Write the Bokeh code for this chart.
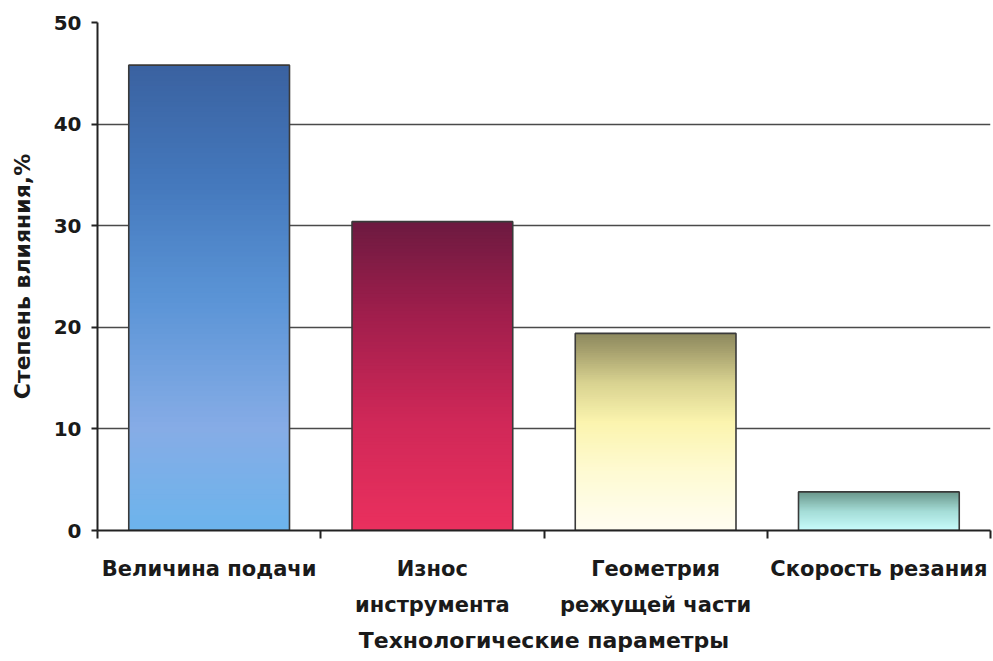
from bokeh.plotting import figure
from bokeh.models import Range1d, FixedTicker, ColumnDataSource
from bokeh.embed import file_html
from bokeh.resources import INLINE

# Data: influence of technological parameters, %
categories = ["Величина подачи", "Износ\nинструмента", "Геометрия\nрежущей части", "Скорость резания"]
values = [45.8, 30.4, 19.4, 3.8]
y_ticks = [0, 10, 20, 30, 40, 50]

# Vertical gradient stops (fraction of bar height from the bottom -> colour)
gradients = [
    [(0.0, "#6cb4ec"), (0.22, "#86ace6"), (0.5, "#5a94d6"), (0.75, "#4478bc"), (1.0, "#3a62a0")],
    [(0.0, "#ea305e"), (0.35, "#d02858"), (0.7, "#a01e4c"), (1.0, "#6c1a40")],
    [(0.0, "#fffdf2"), (0.3, "#fefad2"), (0.55, "#fbf4ae"), (0.75, "#d8d290"), (0.9, "#aaa470"), (1.0, "#8c885e")],
    [(0.0, "#c8fcfc"), (0.5, "#a4dcd6"), (1.0, "#6a968a")],
]

BAR_WIDTH = 0.72
SLICES = 90
FONT = "DejaVu Sans"
TEXT_COLOR = "#1a1a1a"


def hex_to_rgb(h):
    h = h.lstrip("#")
    return tuple(int(h[i:i + 2], 16) for i in (0, 2, 4))


def colour_at(stops, t):
    for (t0, c0), (t1, c1) in zip(stops[:-1], stops[1:]):
        if t0 <= t <= t1:
            a = (t - t0) / (t1 - t0) if t1 > t0 else 0.0
            r0, g0, b0 = hex_to_rgb(c0)
            r1, g1, b1 = hex_to_rgb(c1)
            return "#%02x%02x%02x" % (round(r0 + (r1 - r0) * a),
                                       round(g0 + (g1 - g0) * a),
                                       round(b0 + (b1 - b0) * a))
    return stops[-1][1]


p = figure(width=993, height=661, output_backend="svg", toolbar_location=None,
           x_range=Range1d(0, len(categories)), y_range=Range1d(0, 50),
           min_border_left=97, min_border_right=3, min_border_top=22, min_border_bottom=131)
p.outline_line_color = None
p.background_fill_color = "white"
p.border_fill_color = "white"

# Gridlines
p.xgrid.visible = False
p.ygrid.ticker = FixedTicker(ticks=[10, 20, 30, 40])
p.ygrid.grid_line_color = "#4a4a4a"
p.ygrid.grid_line_width = 1.4

# Gradient-filled bars: each layer rises from the baseline, tallest drawn first,
# so shorter layers paint over it and no seams show between colour bands
left, right, bottom, top, fill = [], [], [], [], []
for i, (v, stops) in enumerate(zip(values, gradients)):
    cx = i + 0.5
    for k in range(SLICES - 1, -1, -1):
        left.append(cx - BAR_WIDTH / 2)
        right.append(cx + BAR_WIDTH / 2)
        bottom.append(0)
        top.append(v * (k + 1) / SLICES)
        fill.append(colour_at(stops, (k + 0.5) / SLICES))

layers = ColumnDataSource(dict(left=left, right=right, bottom=bottom, top=top, fill=fill))
p.quad(left="left", right="right", bottom="bottom", top="top", source=layers,
       fill_color="fill", line_color=None)

# Bar outlines
bars = ColumnDataSource(dict(x=[i + 0.5 for i in range(len(values))], top=values))
p.vbar(x="x", top="top", width=BAR_WIDTH, source=bars,
       fill_color=None, line_color="#3a3a3a", line_width=1.6)

# Y axis
ya = p.yaxis[0]
ya.ticker = FixedTicker(ticks=y_ticks)
ya.axis_line_color = "#222222"
ya.axis_line_width = 2
ya.major_tick_line_color = "#222222"
ya.major_tick_line_width = 2
ya.major_tick_out = 6
ya.major_tick_in = 0
ya.minor_tick_line_color = None
ya.major_label_standoff = 10
ya.major_label_text_font = FONT
ya.major_label_text_font_style = "bold"
ya.major_label_text_font_size = "20px"
ya.major_label_text_color = TEXT_COLOR
ya.axis_label = "Степень влияния,%"
ya.axis_label_text_font = FONT
ya.axis_label_text_font_style = "bold"
ya.axis_label_text_font_size = "22px"
ya.axis_label_text_color = TEXT_COLOR
ya.axis_label_standoff = 16

# X axis: labels centred under bars, ticks at category boundaries
xa = p.xaxis[0]
xa.ticker = FixedTicker(ticks=[i + 0.5 for i in range(len(categories))],
                        minor_ticks=list(range(len(categories) + 1)))
xa.major_label_overrides = {i + 0.5: c for i, c in enumerate(categories)}
xa.axis_line_color = "#222222"
xa.axis_line_width = 2
xa.major_tick_line_color = None
xa.major_tick_out = 8
xa.major_tick_in = 0
xa.minor_tick_line_color = "#222222"
xa.minor_tick_line_width = 2
xa.minor_tick_out = 8
xa.minor_tick_in = 0
xa.major_label_standoff = 18
xa.major_label_text_font = FONT
xa.major_label_text_font_style = "bold"
xa.major_label_text_font_size = "21px"
xa.major_label_text_color = TEXT_COLOR
xa.major_label_text_line_height = 1.5
xa.axis_label = "Технологические параметры"
xa.axis_label_text_font = FONT
xa.axis_label_text_font_style = "bold"
xa.axis_label_text_font_size = "22px"
xa.axis_label_text_color = TEXT_COLOR
xa.axis_label_standoff = 8

open("out.html", "w").write(file_html(p, INLINE))
